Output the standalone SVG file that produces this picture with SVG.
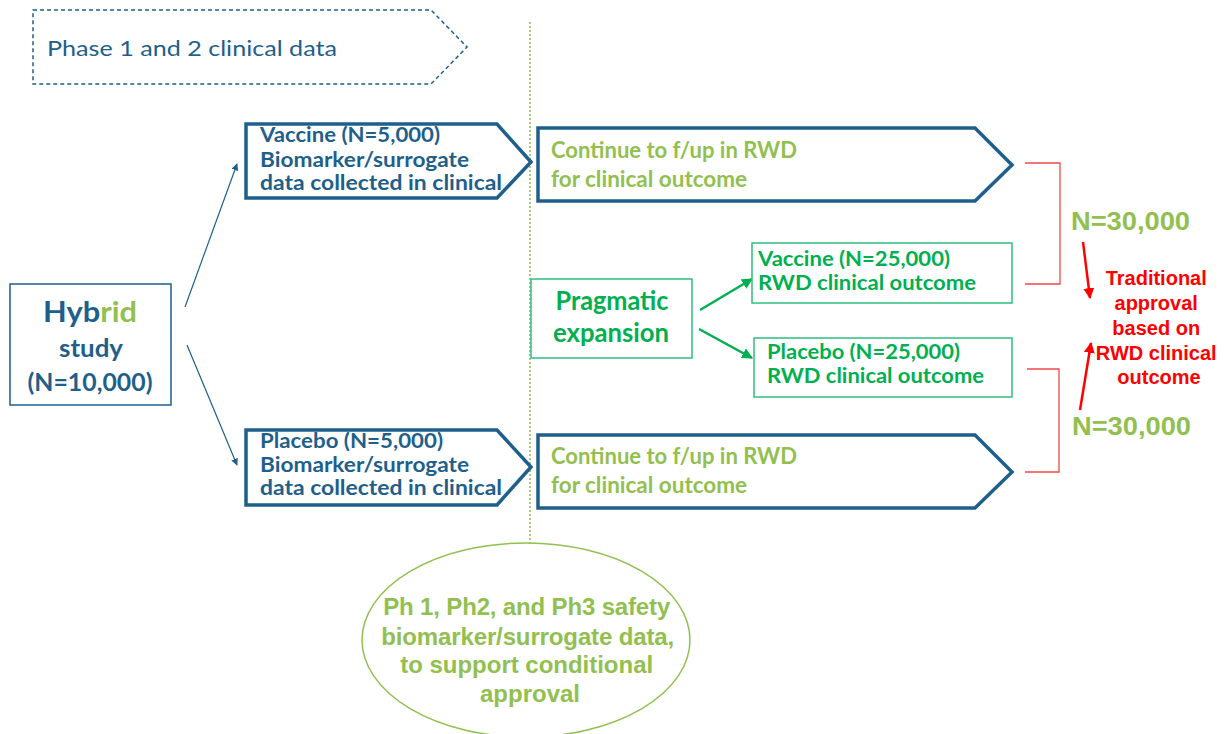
<svg xmlns="http://www.w3.org/2000/svg" width="1229" height="734" viewBox="0 0 1229 734">
<style>
.cal{font-family:Lato,"Open Sans","Liberation Sans",sans-serif}
.ari{font-family:"Liberation Sans",Arial,sans-serif;font-weight:bold}
.b{font-weight:bold}
.blue{fill:#1f5f8b}
.lg{fill:#92c050}
.bg{fill:#00b050}
.red{fill:#ff0000}
.chev{fill:#fff;stroke:#1f5f8b;stroke-width:3.5;stroke-linejoin:miter}
.gbox{fill:#fff;stroke:#2cc07c;stroke-width:1.5}
.brk{fill:none;stroke:#f04848;stroke-width:1.3}
</style>
<defs>
<marker id="ab" viewBox="0 0 10 10" refX="9" refY="5" markerWidth="7" markerHeight="7" orient="auto" markerUnits="userSpaceOnUse"><path d="M0,0 L10,5 L0,10 Z" fill="#1f5f8b"/></marker>
<marker id="ag" viewBox="0 0 10 10" refX="9" refY="5" markerWidth="11" markerHeight="11" orient="auto" markerUnits="userSpaceOnUse"><path d="M0,0 L10,5 L0,10 Z" fill="#00b050"/></marker>
<marker id="ar" viewBox="0 0 10 10" refX="9" refY="5" markerWidth="11" markerHeight="11" orient="auto" markerUnits="userSpaceOnUse"><path d="M0,0 L10,5 L0,10 Z" fill="#ff0000"/></marker>
</defs>
<rect width="1229" height="734" fill="#fff"/>

<g id="phase12">
<polygon points="33,10 431,10 467,47 431,84 33,84" fill="#fff" stroke="#1f5f8b" stroke-width="1.5" stroke-dasharray="4,3"/>
<text class="cal blue" x="47" y="56" font-size="22" textLength="290" lengthAdjust="spacingAndGlyphs">Phase 1 and 2 clinical data</text>
</g>

<g id="divider">
<line x1="530" y1="22" x2="530" y2="543" stroke="#8fbc4f" stroke-width="1.5" stroke-dasharray="2,2"/>
</g>

<g id="connectors">
<line x1="185" y1="307" x2="237" y2="164" stroke="#1f5f8b" stroke-width="1.2" marker-end="url(#ab)"/>
<line x1="187" y1="345" x2="237" y2="465" stroke="#1f5f8b" stroke-width="1.2" marker-end="url(#ab)"/>
<line x1="700" y1="310" x2="752" y2="279" stroke="#00b050" stroke-width="2.5" marker-end="url(#ag)"/>
<line x1="699" y1="329" x2="752" y2="358" stroke="#00b050" stroke-width="2.5" marker-end="url(#ag)"/>
<polyline class="brk" points="1025,163 1060,163 1060,284 1025,284"/>
<polyline class="brk" points="1027,369 1059,369 1059,472 1025,472"/>
<line x1="1083" y1="242" x2="1090" y2="298" stroke="#ff0000" stroke-width="2.5" marker-end="url(#ar)"/>
<line x1="1080" y1="410" x2="1091" y2="343" stroke="#ff0000" stroke-width="2.5" marker-end="url(#ar)"/>
</g>

<g id="hybrid">
<rect x="10" y="284" width="161" height="121" fill="#fff" stroke="#1f5f8b" stroke-width="1.5"/>
<text class="cal b" x="90" y="322" font-size="28" text-anchor="middle" textLength="94" lengthAdjust="spacingAndGlyphs"><tspan class="blue">Hyb</tspan><tspan class="lg">rid</tspan></text>
<text class="cal b blue" x="91" y="357" font-size="24" text-anchor="middle" textLength="64" lengthAdjust="spacingAndGlyphs">study</text>
<text class="cal b blue" x="90" y="391" font-size="24" text-anchor="middle" textLength="125" lengthAdjust="spacingAndGlyphs">(N=10,000)</text>
</g>

<g id="vaccine5000">
<path class="chev" d="M246,124 H497 L531,162 L497,198 H246 Z"/>
<text class="cal b blue" x="260" y="142" font-size="20" textLength="180" lengthAdjust="spacingAndGlyphs">Vaccine (N=5,000)</text>
<text class="cal b blue" x="260" y="167" font-size="20" textLength="209" lengthAdjust="spacingAndGlyphs">Biomarker/surrogate</text>
<text class="cal b blue" x="260" y="190" font-size="20" textLength="242" lengthAdjust="spacingAndGlyphs">data collected in clinical</text>
</g>

<g id="placebo5000">
<path class="chev" d="M246,430 H497 L531,467 L497,505 H246 Z"/>
<text class="cal b blue" x="260" y="448" font-size="20" textLength="183" lengthAdjust="spacingAndGlyphs">Placebo (N=5,000)</text>
<text class="cal b blue" x="260" y="472" font-size="20" textLength="209" lengthAdjust="spacingAndGlyphs">Biomarker/surrogate</text>
<text class="cal b blue" x="260" y="495" font-size="20" textLength="242" lengthAdjust="spacingAndGlyphs">data collected in clinical</text>
</g>

<g id="continue-top">
<path class="chev" d="M538,128 H975 L1012,165 L975,201 H538 Z"/>
<text class="cal b lg" x="551" y="158" font-size="22" textLength="246" lengthAdjust="spacingAndGlyphs">Continue to f/up in RWD</text>
<text class="cal b lg" x="551" y="187" font-size="22" textLength="196" lengthAdjust="spacingAndGlyphs">for clinical outcome</text>
</g>

<g id="continue-bottom">
<path class="chev" d="M538,435 H975 L1012,472 L975,508 H538 Z"/>
<text class="cal b lg" x="551" y="464" font-size="22" textLength="246" lengthAdjust="spacingAndGlyphs">Continue to f/up in RWD</text>
<text class="cal b lg" x="551" y="493" font-size="22" textLength="196" lengthAdjust="spacingAndGlyphs">for clinical outcome</text>
</g>

<g id="pragmatic">
<rect class="gbox" x="531" y="279" width="161" height="79"/>
<text class="cal b bg" x="612" y="310" font-size="26" text-anchor="middle" textLength="113" lengthAdjust="spacingAndGlyphs">Pragmatic</text>
<text class="cal b bg" x="611" y="342" font-size="26" text-anchor="middle" textLength="116" lengthAdjust="spacingAndGlyphs">expansion</text>
</g>

<g id="vaccine25000">
<rect class="gbox" x="752" y="243" width="260" height="60"/>
<text class="cal b bg" x="758" y="266" font-size="20" textLength="192" lengthAdjust="spacingAndGlyphs">Vaccine (N=25,000)</text>
<text class="cal b bg" x="758" y="290" font-size="20" textLength="218" lengthAdjust="spacingAndGlyphs">RWD clinical outcome</text>
</g>

<g id="placebo25000">
<rect class="gbox" x="754" y="338" width="258" height="59"/>
<text class="cal b bg" x="767" y="359" font-size="20" textLength="193" lengthAdjust="spacingAndGlyphs">Placebo (N=25,000)</text>
<text class="cal b bg" x="767" y="383" font-size="20" textLength="217" lengthAdjust="spacingAndGlyphs">RWD clinical outcome</text>
</g>

<g id="n30000-top">
<text class="ari lg" x="1071" y="230" font-size="26" textLength="119" lengthAdjust="spacingAndGlyphs">N=30,000</text>
</g>
<g id="n30000-bottom">
<text class="ari lg" x="1072" y="435" font-size="26" textLength="119" lengthAdjust="spacingAndGlyphs">N=30,000</text>
</g>

<g id="traditional">
<text class="ari red" font-size="20" text-anchor="middle">
<tspan x="1159" y="285">Traditional</tspan>
<tspan x="1159" y="310">approval</tspan>
<tspan x="1159" y="335">based on</tspan>
<tspan x="1159" y="360">RWD clinical</tspan>
<tspan x="1159" y="384">outcome</tspan>
</text>
</g>

<g id="conditional">
<ellipse cx="526" cy="640" rx="164" ry="97" fill="#fff" stroke="#92c050" stroke-width="1.5"/>
<text class="ari lg" font-size="24" text-anchor="middle" lengthAdjust="spacingAndGlyphs">
<tspan x="530" y="615" textLength="287">Ph 1, Ph2, and Ph3 safety</tspan>
<tspan x="531" y="645" textLength="293">biomarker/surrogate data,</tspan>
<tspan x="530" y="673" textLength="253">to support conditional</tspan>
<tspan x="530" y="702" textLength="100">approval</tspan>
</text>
</g>
</svg>
